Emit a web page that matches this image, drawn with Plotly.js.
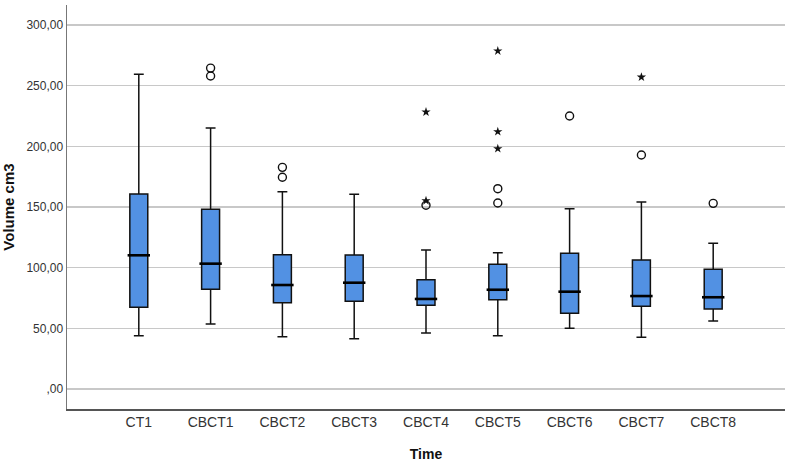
<!DOCTYPE html>
<html>
<head>
<meta charset="utf-8">
<script src="https://cdn.plot.ly/plotly-3.0.1.min.js"></script>
<style>
html,body{margin:0;padding:0;background:#fff;}
#chart{width:787px;height:464px;}
</style>
</head>
<body>
<div id="chart"></div>
<script>
// Categories
const categories = ["CT1","CBCT1","CBCT2","CBCT3","CBCT4","CBCT5","CBCT6","CBCT7","CBCT8"];
// Box statistics
const lowerFence = [43.9, 53.6, 43.1, 41.5, 46.2, 43.9, 50.0, 42.6, 56.0];
const q1Values   = [67.3, 82.2, 71.1, 72.3, 69.0, 73.6, 62.4, 68.2, 65.9];
const medians    = [110.2, 103.3, 85.7, 87.6, 74.2, 81.8, 80.2, 76.6, 75.6];
const q3Values   = [160.7, 148.1, 110.7, 110.4, 90.1, 102.8, 111.8, 106.3, 98.6];
const upperFence = [259.4, 215.1, 162.6, 160.5, 114.6, 112.3, 148.6, 154.1, 120.1];
// Outliers (circles) and extremes (stars)
const circleCats = ["CBCT1","CBCT1","CBCT2","CBCT2","CBCT4","CBCT5","CBCT5","CBCT6","CBCT7","CBCT8"];
const circleVals = [264.5, 258.0, 182.7, 174.5, 151.4, 165.1, 153.3, 225.0, 192.9, 153.0];
const starCats = ["CBCT4","CBCT4","CBCT5","CBCT5","CBCT5","CBCT7"];
const starVals = [228.3, 155.2, 278.6, 212.1, 198.1, 257.1];
// Axis ticks
const yTickVals = [0, 50, 100, 150, 200, 250, 300];
const yTickText = [",00", "50,00", "100,00", "150,00", "200,00", "250,00", "300,00"];

const boxTrace = {
  type: "box",
  x: categories,
  lowerfence: lowerFence,
  q1: q1Values,
  median: medians,
  q3: q3Values,
  upperfence: upperFence,
  boxpoints: false,
  width: 0.25,
  whiskerwidth: 0.55,
  fillcolor: "#5291E3",
  line: {color: "#111", width: 1.5},
  hoverinfo: "skip",
  showlegend: false
};
const medianTrace = {
  type: "scatter", mode: "markers",
  x: categories, y: medians,
  marker: {symbol: "line-ew", size: 16, line: {color: "#000", width: 2.6}},
  hoverinfo: "skip", showlegend: false, cliponaxis: false
};
const circleTrace = {
  type: "scatter", mode: "markers",
  x: circleCats, y: circleVals,
  marker: {symbol: "circle-open", size: 8, color: "#111", line: {color: "#111", width: 1.4}},
  hoverinfo: "skip", showlegend: false
};
const starTrace = {
  type: "scatter", mode: "markers",
  x: starCats, y: starVals,
  marker: {symbol: "star", size: 7, color: "#111", line: {width: 0}},
  hoverinfo: "skip", showlegend: false
};

const layout = {
  width: 787, height: 464,
  margin: {l: 67, r: 2, t: 5, b: 55},
  paper_bgcolor: "#fff", plot_bgcolor: "#fff",
  font: {family: "Liberation Sans, Arial, sans-serif", color: "#222"},
  showlegend: false,
  xaxis: {
    type: "category",
    categoryorder: "array", categoryarray: categories,
    range: [-1, 9],
    showgrid: false, zeroline: false,
    showline: true, linecolor: "#555", linewidth: 1.5,
    ticks: "", tickfont: {size: 14, color: "#333"},
    title: {text: "Time", font: {size: 14, color: "#111", weight: "bold"}, standoff: 20}
  },
  yaxis: {
    range: [-16.5, 316.5],
    tickvals: yTickVals, ticktext: yTickText,
    showgrid: true, gridcolor: "#c8c8c8", gridwidth: 1.5,
    zeroline: false,
    showline: true, linecolor: "#777", linewidth: 1.5,
    ticks: "", tickfont: {size: 12, color: "#333"},
    title: {text: "Volume cm3", font: {size: 15, color: "#111", weight: "bold"}, standoff: 12}
  }
};

Plotly.newPlot("chart", [boxTrace, medianTrace, circleTrace, starTrace], layout, {staticPlot: true, displayModeBar: false});
</script>
</body>
</html>
